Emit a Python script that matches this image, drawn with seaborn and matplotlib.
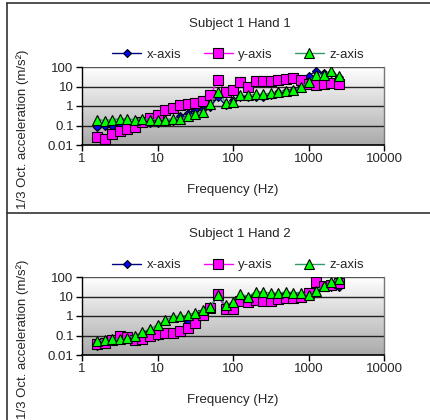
import numpy as np
import pandas as pd
import matplotlib
matplotlib.use("Agg")
import matplotlib.pyplot as plt
import seaborn as sns
from matplotlib.colors import LinearSegmentedColormap
from matplotlib.lines import Line2D

freq = [1.6, 2, 2.5, 3.15, 4, 5, 6.3, 8, 10, 12.5, 16, 20, 25, 31.5, 40, 50, 63, 80,
        100, 125, 160, 200, 250, 315, 400, 500, 630, 800, 1000, 1250, 1600, 2000, 2500]

h1_x = [0.08, 0.1, 0.09, 0.12, 0.12, 0.13, 0.15, 0.14, 0.14, 0.15, 0.18, 0.3, 0.45, 0.6, 0.7, 0.9,
        3.0, 1.1, 2.0, 3.0, 3.0, 3.0, 2.8, 3.5, 5.0, 6.0, 7.0, 10, 35, 60, 50, 50, 30]
h1_y = [0.025, 0.02, 0.035, 0.05, 0.065, 0.08, 0.15, 0.25, 0.35, 0.6, 0.8, 1.1, 1.2, 1.4, 1.8, 3.5,
        22, 5, 7, 17, 9, 19, 19, 19, 22, 25, 28, 22, 14, 12, 14, 16, 14]
h1_z = [0.2, 0.18, 0.2, 0.22, 0.22, 0.2, 0.22, 0.2, 0.2, 0.2, 0.22, 0.22, 0.3, 0.4, 0.5, 1.3,
        5.5, 1.5, 1.6, 3.5, 3.5, 4, 4, 4.5, 5, 6, 6.5, 9, 18, 40, 40, 60, 35]

h2_x = [0.03, 0.035, 0.05, 0.09, 0.08, 0.06, 0.07, 0.08, 0.1, 0.13, 0.14, 0.2, 0.5, 0.45, 1.1, 2.5,
        13, 2.3, 2.3, 6, 5, 7, 6, 6, 7.5, 8, 8, 9, 15, 50, 35, 30, 30]
h2_y = [0.035, 0.04, 0.06, 0.1, 0.08, 0.06, 0.07, 0.09, 0.12, 0.13, 0.14, 0.18, 0.25, 0.45, 1.1, 2.5,
        13, 2.3, 2.3, 6, 5, 7, 6, 6, 7.5, 8, 8, 9, 15, 55, 35, 40, 50]
h2_z = [0.05, 0.06, 0.065, 0.065, 0.075, 0.1, 0.15, 0.22, 0.35, 0.6, 0.9, 1.0, 1.1, 1.5, 2, 3,
        12, 3.5, 5.5, 13, 10, 18, 17, 15, 15, 17, 16, 15, 12, 20, 35, 55, 80]

titles = ["Subject 1 Hand 1", "Subject 1 Hand 2"]
series_names = ["x-axis", "y-axis", "z-axis"]
panels = [(h1_x, h1_y, h1_z), (h2_x, h2_y, h2_z)]

styles = {
    "x-axis": dict(color="#000080", marker="D", ms=4.5, mfc="#0000ff"),
    "y-axis": dict(color="#ff00ff", marker="s", ms=6.5, mfc="#ff00ff"),
    "z-axis": dict(color="#339966", marker="^", ms=7, mfc="#00ff00"),
}

sns.set_style("white")
plt.rcParams["font.family"] = ["Liberation Sans", "DejaVu Sans"]
plt.rcParams["font.size"] = 9.5

W, H = 430, 420
fig = plt.figure(figsize=(W / 100, H / 100), dpi=100)

cmap = LinearSegmentedColormap.from_list("bg", ["#ffffff", "#aaaaaa"])

def fx(px):
    return px / W

def fy(py):
    return 1 - py / H

for i, (vals, title) in enumerate(zip(panels, titles)):
    off = 210 * i
    ax = fig.add_axes([fx(82), fy(145 + off), fx(384) - fx(82), (145 - 67) / H])
    df = pd.DataFrame({"freq": freq * 3,
                       "value": list(vals[0]) + list(vals[1]) + list(vals[2]),
                       "series": sum([[n] * len(freq) for n in series_names], [])})
    ax.set_xscale("log")
    ax.set_yscale("log")
    ax.imshow(np.linspace(0, 1, 256)[:, None], extent=[0, 1, 0, 1], transform=ax.transAxes,
              aspect="auto", cmap=cmap, zorder=0)
    for n in series_names:
        st = styles[n]
        sns.lineplot(data=df[df.series == n], x="freq", y="value", ax=ax, color=st["color"],
                     marker=st["marker"], markersize=st["ms"], markerfacecolor=st["mfc"],
                     markeredgecolor="black", markeredgewidth=0.8, linewidth=1.0,
                     label=n, zorder=3, clip_on=True)
    ax.set_xlim(1, 10000)
    ax.set_ylim(0.01, 100)
    ax.set_xticks([1, 10, 100, 1000, 10000])
    ax.set_xticklabels(["1", "10", "100", "1000", "10000"])
    ax.set_yticks([0.01, 0.1, 1, 10, 100])
    ax.set_yticklabels(["0.01", "0.1", "1", "10", "100"])
    ax.minorticks_off()
    ax.tick_params(axis="both", which="major", direction="out", length=4, width=1,
                   color="black", labelsize=9.5, pad=2, left=True, bottom=True)
    for yv in [0.1, 1, 10]:
        ax.axhline(yv, color="#222222", lw=1.0, zorder=1)
    ax.axhline(100, color="#555555", lw=1.0, zorder=1)
    ax.spines["left"].set_color("black")
    ax.spines["bottom"].set_color("black")
    ax.spines["left"].set_linewidth(1.0)
    ax.spines["bottom"].set_linewidth(1.2)
    ax.spines["top"].set_visible(False)
    ax.spines["right"].set_color("#777777")
    ax.spines["right"].set_linewidth(1.0)
    ax.set_xlabel("")
    ax.set_ylabel("")
    ax.legend(loc="center", bbox_to_anchor=(fx(238), fy(55 + off)),
              bbox_transform=fig.transFigure, ncol=3, frameon=False,
              handlelength=2.2, columnspacing=1.7, handletextpad=0.4, fontsize=9.5,
              borderaxespad=0, borderpad=0)
    fig.text(fx(240), fy(24 + off), title, ha="center", va="center", fontsize=9.5)
    fig.text(fx(233), fy(190 + off), "Frequency (Hz)", ha="center", va="center", fontsize=9.5)
    fig.text(fx(23), fy(50 + off), "1/3 Oct. acceleration (m/s²)", rotation=90,
             ha="center", va="top", fontsize=9.5)

# panel borders
fig.add_artist(Line2D([fx(7), fx(7)], [0, fy(3)], color="#333333", lw=1.2))
fig.add_artist(Line2D([fx(7), 1], [fy(3), fy(3)], color="#333333", lw=1.2))
fig.add_artist(Line2D([fx(7), 1], [fy(213), fy(213)], color="#333333", lw=1.2))

fig.savefig("out.png", dpi=100)
